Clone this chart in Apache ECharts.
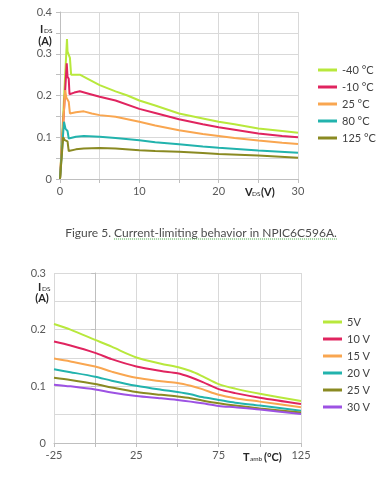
<!DOCTYPE html>
<html><head><meta charset="utf-8">
<script src="https://cdn.jsdelivr.net/npm/echarts@6.0.0/dist/echarts.min.js"></script>
<style>html,body{margin:0;padding:0;background:#fff}#c{width:387px;height:482px}</style>
</head><body><div id="c"></div><script>
// ---- Top chart: I_DS vs V_DS (pairs [V_DS, I_DS]) ----
const topNames = ['-40 °C', '-10 °C', '25 °C', '80 °C', '125 °C'];
const topColors = ['#b8e83c', '#e0245f', '#f9a650', '#22b3ad', '#8a8a22'];
const curveM40 = [[0,0],[0.88,0.335],[0.95,0.305],[1.25,0.29],[1.4,0.25],[2.5,0.25],[3.5,0.24],[5,0.225],[7,0.21],[8.5,0.2],[10,0.188],[12,0.176],[15,0.157],[18,0.145],[20,0.137],[22,0.131],[25,0.121],[28,0.115],[30,0.111]];
const curveM10 = [[0,0],[0.85,0.277],[0.95,0.245],[1.1,0.24],[1.2,0.203],[1.8,0.207],[2.5,0.21],[3.5,0.205],[5,0.197],[7,0.188],[10,0.168],[12,0.158],[15,0.143],[18,0.131],[20,0.124],[22,0.118],[25,0.109],[28,0.103],[30,0.1]];
const curve25 = [[0,0],[0.65,0.213],[0.8,0.195],[1.1,0.185],[1.25,0.157],[2,0.16],[3,0.162],[4,0.157],[5,0.153],[7,0.149],[10,0.137],[12,0.128],[15,0.117],[18,0.108],[20,0.103],[22,0.098],[25,0.092],[28,0.087],[30,0.084]];
const curve80 = [[0,0],[0.5,0.137],[0.7,0.12],[0.95,0.115],[1.1,0.097],[2,0.101],[3,0.103],[5,0.101],[7,0.098],[10,0.093],[12,0.088],[15,0.083],[18,0.078],[20,0.075],[25,0.068],[30,0.063]];
const curve125 = [[0,0],[0.4,0.1],[0.6,0.093],[0.95,0.09],[1.1,0.067],[2,0.071],[3,0.073],[5,0.074],[7,0.073],[10,0.069],[12,0.067],[15,0.065],[18,0.062],[20,0.06],[25,0.056],[30,0.051]];
const topCurves = [curveM40, curveM10, curve25, curve80, curve125];

// ---- Bottom chart: I_DS vs T_amb ----
const tamb = [-25, -15, 0, 10, 25, 40, 50, 58, 65, 75, 85, 100, 125];
const botNames = ['5V', '10 V', '15 V', '20 V', '25 V', '30 V'];
const botColors = ['#b8e83c', '#e0245f', '#f9a650', '#22b3ad', '#8a8a22', '#9d52e3'];
const ids5V  = [0.21, 0.2, 0.182, 0.17, 0.151, 0.14, 0.134, 0.127, 0.118, 0.104, 0.096, 0.087, 0.074];
const ids10V = [0.179, 0.172, 0.159, 0.148, 0.135, 0.127, 0.123, 0.116, 0.108, 0.095, 0.088, 0.08, 0.069];
const ids15V = [0.149, 0.144, 0.135, 0.126, 0.115, 0.109, 0.106, 0.101, 0.095, 0.085, 0.079, 0.073, 0.063];
const ids20V = [0.13, 0.125, 0.117, 0.11, 0.101, 0.094, 0.09, 0.086, 0.081, 0.076, 0.071, 0.066, 0.057];
const ids25V = [0.115, 0.111, 0.104, 0.098, 0.09, 0.085, 0.082, 0.079, 0.075, 0.07, 0.066, 0.061, 0.054];
const ids30V = [0.103, 0.1, 0.0945, 0.089, 0.083, 0.079, 0.076, 0.073, 0.07, 0.0655, 0.063, 0.059, 0.051];
const botSeries = [ids5V, ids10V, ids15V, ids20V, ids25V, ids30V];

const caption1 = 'Figure 5. ';
const caption2 = 'Current-limiting behavior in NPIC6C596A.';

const FF = 'Lato, "Open Sans", sans-serif';
const gridC = '#d9d9d9', axisC = '#bfbfbf', lblC = '#595959';

function xAxis(gi, min, max, step, every) {
  return { type: 'value', gridIndex: gi, min, max, interval: step,
    axisLine: { show: true, lineStyle: { color: axisC } },
    axisTick: { show: true, length: 4, lineStyle: { color: axisC } },
    splitLine: { show: true, lineStyle: { color: gridC } },
    axisLabel: { fontFamily: FF, fontSize: 11, color: lblC, margin: 7,
      formatter: v => (Math.round(v - min) % every === 0 ? String(v) : '') } };
}
function yAxis(gi, max) {
  return { type: 'value', gridIndex: gi, min: 0, max, interval: 0.05,
    axisLine: { show: true, lineStyle: { color: axisC } },
    axisTick: { show: true, length: 4, lineStyle: { color: axisC } },
    splitLine: { show: true, lineStyle: { color: gridC } },
    axisLabel: { fontFamily: FF, fontSize: 11, color: lblC, margin: 8,
      formatter: v => (Math.round(v * 100) % 10 === 0 ? String(+v.toFixed(2)) : '') } };
}

const series = [];
topCurves.forEach((d, i) => series.push({ name: topNames[i], type: 'line', xAxisIndex: 0, yAxisIndex: 0,
  data: d, showSymbol: false, symbol: 'none', lineStyle: { width: 2, color: topColors[i] }, itemStyle: { color: topColors[i] } }));
botSeries.forEach((d, i) => series.push({ name: botNames[i], type: 'line', xAxisIndex: 1, yAxisIndex: 1,
  data: d.map((v, k) => [tamb[k], v]), smooth: 0.3, showSymbol: false, symbol: 'none',
  lineStyle: { width: 2, color: botColors[i] }, itemStyle: { color: botColors[i] } }));

// measure caption
const cv = document.createElement('canvas').getContext('2d');
const capFont = '12px ' + FF;
cv.font = capFont;
const w1 = cv.measureText(caption1).width, w2 = cv.measureText(caption2).width;
const capX = 201 - (w1 + w2) / 2, capY = 233;

function txt(x, y, s, size, bold, align) {
  return { type: 'text', x, y, style: { text: s, font: (bold ? 'bold ' : '') + size + 'px ' + FF,
    fill: '#262626', textAlign: align || 'left', textVerticalAlign: 'middle' } };
}

const graphic = [
  txt(40, 29, 'I', 11, true), txt(44, 31, 'DS', 6.5, false), txt(45, 41, '(A)', 11, true, 'center'),
  txt(245, 192, 'V', 11, true), txt(252, 194, 'DS', 6.5, false), txt(261, 192, '(V)', 11, true),
  txt(38, 287, 'I', 11, true), txt(42, 289, 'DS', 6.5, false), txt(42, 298, '(A)', 11, true, 'center'),
  txt(243, 457, 'T', 11, true), txt(250, 459, 'amb', 6.5, false), txt(264, 457, '(°C)', 11, true),
  { type: 'text', x: capX, y: capY, style: { text: caption1, font: capFont, fill: '#4d4d4d', textVerticalAlign: 'middle' } },
  { type: 'text', x: capX + w1, y: capY, style: { text: caption2, font: capFont, fill: '#4d4d4d', textVerticalAlign: 'middle' } },
  { type: 'line', shape: { x1: capX + w1, y1: capY + 6, x2: capX + w1 + w2, y2: capY + 6 },
    style: { stroke: '#3fa83f', lineWidth: 1, lineDash: [1, 1] } }
];

const chart = echarts.init(document.getElementById('c'), null, { renderer: 'canvas' });
chart.setOption({
  backgroundColor: '#fff',
  animation: false,
  grid: [
    { left: 60, top: 12, width: 238, height: 167 },
    { left: 54, top: 273, width: 247, height: 170 }
  ],
  xAxis: [xAxis(0, 0, 30, 5, 10), xAxis(1, -25, 125, 25, 50)],
  yAxis: [yAxis(0, 0.4), yAxis(1, 0.3)],
  legend: [
    { data: topNames, orient: 'vertical', left: 318, top: 64, padding: 0, itemWidth: 19, itemHeight: 3,
      icon: 'rect', itemGap: 5, selectedMode: false,
      textStyle: { fontFamily: FF, fontSize: 11, color: '#404040', lineHeight: 12 } },
    { data: botNames, orient: 'vertical', left: 323, top: 316, padding: 0, itemWidth: 19, itemHeight: 3,
      icon: 'rect', itemGap: 5, selectedMode: false,
      textStyle: { fontFamily: FF, fontSize: 11, color: '#404040', lineHeight: 12 } }
  ],
  graphic,
  series
});
</script></body></html>
